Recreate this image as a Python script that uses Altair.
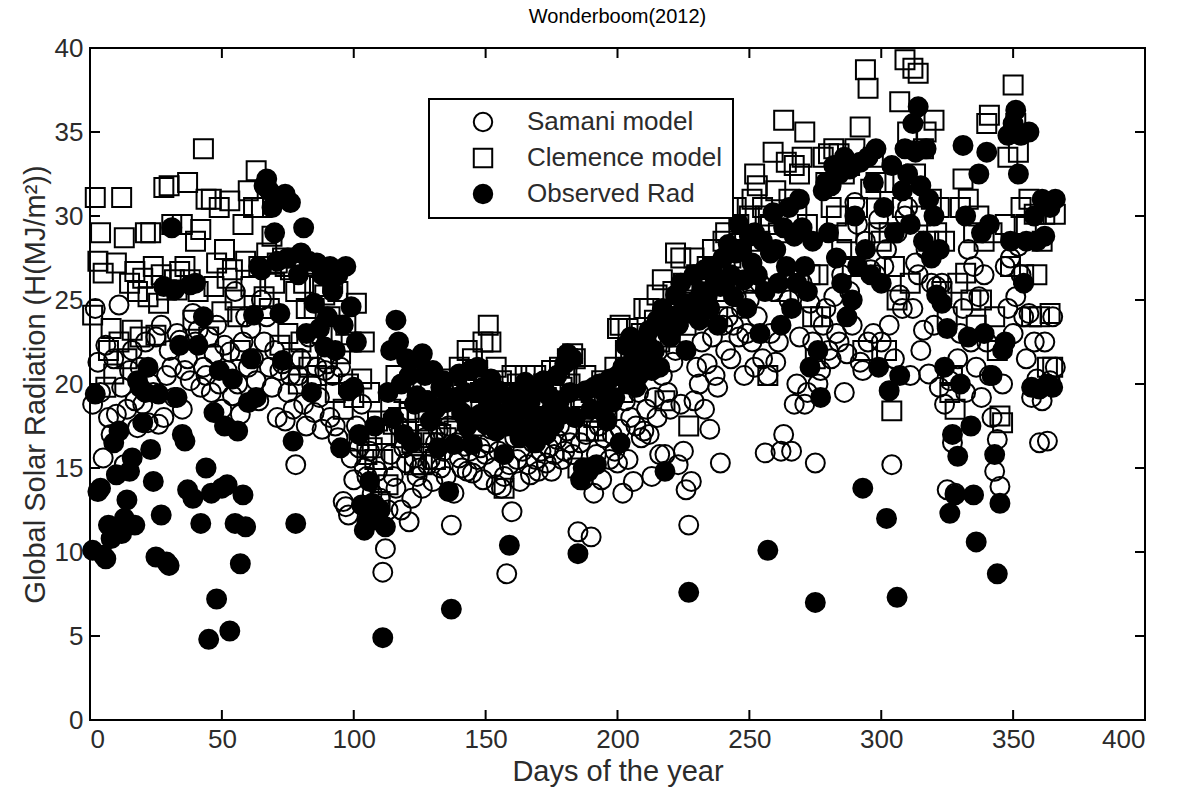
import altair as alt
import pandas as pd

days = list(range(1, 367))

samani = [
    18.8, 24.5, 21.3, 19.5, 15.6, 22.3, 18.0, 17.0, 21.5, 18.2,
    24.7, 19.8, 15.2, 18.5, 20.8, 22.0, 19.0, 17.4, 21.0, 18.8,
    22.5, 17.7, 20.0, 19.5, 22.8, 17.6, 23.5, 18.0, 20.5, 22.0,
    21.0, 19.2, 23.0, 22.6, 18.5, 20.8, 21.5, 20.2, 24.2, 22.5,
    23.2, 19.8, 21.0, 20.5, 22.8, 19.5, 21.8, 23.5, 20.0, 18.5,
    22.3, 20.8, 21.9, 19.3, 25.5, 20.0, 18.2, 22.5, 24.0, 21.0,
    23.3, 21.5, 20.2, 19.0, 25.0, 22.5, 24.0, 21.0, 19.8, 22.0,
    18.0, 20.8, 21.2, 17.8, 19.5, 20.5, 18.5, 15.2, 20.5, 21.5,
    18.8, 17.5, 22.8, 20.0, 18.3, 21.0, 19.2, 17.3, 20.8, 21.2,
    18.0, 20.5, 17.5, 16.8, 21.0, 13.0, 12.7, 12.2, 15.6, 14.3,
    17.5, 16.2, 18.8, 15.0, 14.5, 16.0, 13.5, 12.8, 14.8, 13.2,
    8.8, 10.2, 12.5, 15.8, 14.5, 13.8, 17.5, 12.5, 16.2, 15.3,
    11.8, 13.2, 15.6, 14.5, 15.0, 13.8, 16.8, 15.2, 15.5, 14.2,
    16.5, 17.2, 15.0, 16.0, 14.5, 17.5, 11.6, 13.5, 16.5, 15.6,
    15.0, 16.3, 14.8, 16.0, 14.7, 18.0, 15.5, 16.2, 14.3, 15.8,
    16.5, 17.3, 15.0, 14.0, 16.0, 13.8, 14.5, 8.7, 15.2, 12.4,
    16.8, 15.5, 14.2, 16.0, 17.0, 15.2, 14.6, 16.5, 15.5, 14.8,
    16.0, 17.0, 15.3, 16.2, 14.8, 15.8, 16.7, 17.5, 15.5, 16.0,
    17.2, 16.5, 15.8, 18.0, 11.2, 16.5, 14.3, 17.0, 15.0, 10.9,
    13.5, 15.8, 17.5, 14.3, 16.8, 18.5, 15.5, 17.0, 16.0, 15.3,
    17.3, 13.5, 19.0, 15.5, 18.0, 14.2, 17.5, 19.5, 16.8, 17.2,
    18.5, 17.0, 14.5, 19.2, 18.0, 15.8, 20.5, 15.8, 19.5, 18.5,
    21.3, 22.0, 15.2, 18.8, 16.0, 13.7, 11.6, 14.2, 19.0, 21.0,
    20.0, 22.5, 18.5, 21.2, 17.3, 22.8, 20.5, 19.8, 15.3, 23.5,
    22.0, 24.0, 21.5, 23.5, 25.2, 22.8, 24.5, 20.5, 23.0, 25.0,
    22.5, 21.0, 24.0, 26.0, 21.5, 15.9, 20.5, 23.0, 25.5, 21.3,
    22.5, 16.0, 17.0, 26.3, 25.0, 16.0, 18.8, 20.0, 22.8, 26.0,
    18.8, 19.5, 24.8, 22.5, 15.3, 20.0, 20.8, 23.5, 24.5, 22.0,
    21.5, 25.2, 23.0, 22.5, 26.5, 19.5, 21.8, 25.5, 23.5, 30.8,
    29.5, 21.3, 20.8, 28.5, 22.5, 26.8, 23.0, 26.5, 29.8, 22.5,
    27.0, 28.0, 23.5, 15.2, 21.5, 29.0, 25.3, 24.5, 30.0, 30.5,
    20.5, 24.5, 27.2, 26.5, 22.0, 23.2, 28.0, 20.6, 26.0, 23.5,
    25.8, 19.8, 26.0, 18.8, 13.7, 20.2, 16.5, 13.5, 21.5, 23.0,
    24.5, 19.5, 28.0, 22.5, 27.0, 21.0, 25.2, 19.2, 26.5, 22.5,
    20.5, 18.0, 14.8, 16.7, 13.9, 20.0, 27.0, 24.5, 27.5, 23.0,
    25.2, 28.2, 26.5, 24.0, 21.5, 24.2, 19.2, 22.5, 20.3, 16.5,
    19.0, 22.5, 16.6, 20.2, 24.0, 21.0,
]

clemence = [
    24.1, 31.1, 27.3, 29.0, 26.6, 19.8, 22.0, 23.3, 20.6, 27.2,
    22.5, 31.1, 28.7, 21.5, 26.0, 23.2, 26.7, 25.5, 22.8, 26.3,
    29.0, 25.2, 29.0, 27.0, 22.9, 24.8, 26.5, 31.7, 25.6, 31.8,
    29.5, 26.2, 25.6, 26.7, 29.5, 27.0, 32.0, 26.2, 23.8, 28.5,
    25.5, 29.2, 34.0, 31.0, 22.8, 31.0, 25.8, 27.2, 30.5, 24.3,
    28.0, 26.3, 30.9, 26.8, 25.0, 24.0, 22.0, 29.5, 27.3, 31.5,
    25.8, 30.5, 32.7, 27.0, 30.5, 25.2, 27.8, 24.5, 28.8, 26.0,
    27.2, 22.3, 27.5, 27.0, 23.0, 26.8, 21.5, 25.5, 20.0, 22.5,
    26.0, 24.5, 21.0, 27.0, 24.5, 20.5, 25.8, 23.0, 25.3, 21.5,
    24.0, 26.0, 19.5, 25.5, 21.8, 18.5, 23.5, 20.0, 22.5, 19.2,
    24.8, 16.6, 20.3, 22.5, 15.8, 19.5, 16.2, 15.5, 17.8, 13.0,
    15.5, 17.0, 14.0, 18.5, 17.6, 20.5, 18.0, 16.8, 19.5, 17.3,
    18.3, 16.5, 15.2, 17.8, 19.0, 15.2, 18.5, 17.0, 20.0, 16.5,
    15.5, 18.2, 17.0, 19.5, 16.8, 18.5, 20.3, 17.2, 19.8, 21.0,
    18.5, 20.5, 22.0, 19.0, 21.5, 17.5, 20.8, 19.5, 22.5, 20.0,
    23.5, 22.5, 19.5, 21.0, 18.5, 20.2, 13.8, 19.5, 18.0, 20.5,
    18.8, 20.0, 17.5, 19.2, 20.5, 18.3, 19.8, 18.0, 20.5, 19.0,
    18.5, 20.0, 19.2, 17.8, 20.8, 19.5, 18.5, 21.0, 19.8, 20.5,
    21.5, 20.0, 21.8, 21.5, 15.0, 19.2, 18.5, 20.5, 17.2, 19.5,
    18.0, 17.2, 19.5, 20.2, 19.0, 18.5, 20.0, 19.5, 21.0, 23.3,
    23.5, 19.5, 22.0, 23.3, 21.5, 20.8, 22.5, 21.0, 23.0, 24.5,
    22.0, 24.5, 21.5, 23.8, 25.3, 22.5, 26.2, 19.0, 24.0, 22.8,
    25.5, 27.8, 24.0, 27.5, 26.0, 23.5, 17.5, 25.0, 27.5, 26.5,
    24.5, 26.0, 25.0, 27.0, 26.5, 28.0, 25.5, 24.0, 26.8, 28.5,
    29.0, 30.5, 27.5, 28.0, 30.5, 29.5, 28.0, 27.0, 26.0, 30.0,
    31.0, 32.5, 31.8, 28.5, 30.5, 30.0, 20.5, 29.5, 33.8, 31.5,
    29.0, 25.5, 35.7, 33.2, 31.0, 26.5, 33.0, 30.0, 32.5, 33.5,
    35.0, 29.5, 26.5, 24.0, 21.5, 26.5, 24.0, 33.5, 32.0, 33.7,
    30.5, 34.0, 30.0, 33.7, 28.0, 32.5, 29.0, 33.0, 27.0, 34.0,
    30.5, 35.3, 22.0, 38.7, 37.6, 31.6, 33.5, 32.0, 29.0, 28.5,
    32.0, 22.0, 29.0, 18.4, 27.0, 25.0, 36.8, 30.5, 39.3, 35.0,
    26.0, 38.8, 32.5, 38.5, 30.0, 34.0, 35.0, 28.5, 31.0, 35.7,
    29.0, 30.5, 25.5, 28.5, 24.0, 19.5, 20.5, 18.5, 26.0, 30.5,
    32.2, 26.6, 31.0, 25.0, 29.0, 23.5, 30.0, 25.0, 28.5, 35.5,
    36.0, 29.0, 24.0, 22.0, 18.1, 17.7, 29.5, 33.5, 27.0, 37.8,
    35.5, 33.8, 30.5, 26.5, 29.5, 31.0, 24.0, 30.1, 26.5, 24.0,
    28.5, 30.1, 21.0, 24.2, 21.0, 30.1,
]

observed = [
    10.1, 19.4, 13.6, 13.8, 9.8, 9.6, 11.6, 10.8, 16.5, 14.6,
    17.2, 11.1, 12.0, 13.1, 14.8, 15.6, 11.6, 20.2, 19.8, 17.7,
    19.5, 21.0, 16.1, 14.2, 9.7, 19.4, 12.2, 25.8, 9.4, 9.2,
    29.3, 25.6, 19.2, 22.3, 17.0, 16.6, 13.7, 25.9, 13.2, 26.0,
    22.3, 11.7, 24.0, 15.0, 4.8, 13.5, 18.3, 7.2, 20.8, 13.8,
    17.5, 14.0, 5.3, 20.3, 11.7, 17.2, 9.3, 13.4, 11.5, 18.9,
    21.5, 24.1, 19.2, 27.0, 26.8, 31.8, 32.2, 31.5, 30.5, 29.0,
    27.3, 24.2, 21.4, 31.3, 27.5, 30.8, 16.6, 11.7, 26.5, 27.8,
    29.3, 23.0, 27.3, 19.5, 24.8, 27.2, 23.3, 26.5, 22.2, 24.0,
    27.0, 25.5, 22.0, 26.5, 16.2, 23.5, 27.0, 19.6, 24.6, 19.8,
    22.5, 17.0, 12.8, 11.3, 11.8, 14.2, 12.9, 17.5, 11.9, 12.5,
    4.9, 11.5, 19.5, 22.0, 18.0, 23.8, 22.5, 20.0, 17.0, 21.5,
    20.5, 16.5, 18.8, 19.3, 21.5, 21.8, 20.5, 19.0, 17.8, 20.8,
    18.5, 16.2, 19.8, 20.2, 18.9, 13.6, 6.6, 16.4, 19.2, 20.6,
    18.3, 19.5, 17.5, 20.8, 16.4, 19.5, 21.0, 18.2, 19.8, 17.6,
    19.0, 20.3, 18.5, 17.2, 19.6, 18.0, 15.8, 17.5, 10.4, 18.8,
    17.8, 19.5, 16.8, 18.6, 20.1, 17.3, 19.0, 18.2, 16.5, 19.8,
    18.0, 20.2, 17.0, 19.3, 18.5, 17.6, 20.5, 19.0, 18.2, 21.2,
    21.8, 19.5, 21.5, 18.0, 9.9, 14.3, 15.0, 19.6, 14.8, 18.5,
    19.8, 15.2, 20.0, 18.4, 19.5, 17.8, 20.3, 18.9, 19.2, 20.5,
    16.5, 21.0, 22.3, 20.0, 22.8, 21.5, 19.8, 20.5, 22.0, 21.2,
    22.5, 23.2, 20.8, 22.0, 23.8, 21.0, 24.5, 14.8, 23.0, 22.8,
    24.0, 25.3, 23.5, 26.0, 24.8, 22.0, 7.6, 24.2, 26.5, 25.0,
    23.8, 25.5, 26.8, 25.2, 24.5, 27.0, 26.3, 23.5, 25.8, 27.5,
    26.0, 28.3, 26.5, 25.2, 27.8, 29.5, 28.0, 26.2, 24.5, 28.8,
    27.2, 29.0, 26.5, 23.0, 28.5, 25.5, 10.1, 27.8, 30.2, 28.0,
    26.0, 23.5, 29.3, 27.0, 30.5, 24.5, 28.8, 26.0, 31.0, 29.3,
    27.0, 25.5, 21.0, 28.5, 7.0, 22.0, 19.2, 31.5, 32.0, 29.0,
    31.8, 33.0, 27.5, 32.5, 26.0, 33.5, 24.0, 32.8, 25.0, 30.0,
    27.0, 33.2, 13.8, 28.0, 33.5, 26.5, 32.0, 34.0, 21.0, 26.0,
    30.5, 12.0, 19.6, 33.0, 29.0, 7.3, 20.5, 31.5, 34.0, 32.5,
    29.5, 35.5, 33.8, 36.5, 31.8, 28.5, 34.0, 31.0, 27.5, 30.0,
    25.3, 28.0, 24.8, 21.0, 23.3, 12.3, 17.0, 13.4, 15.7, 20.0,
    34.2, 30.0, 22.8, 17.5, 13.4, 10.6, 32.5, 29.0, 23.0, 33.8,
    29.5, 20.5, 15.8, 8.7, 12.9, 22.0, 22.5, 34.8, 28.5, 35.5,
    36.3, 32.5, 34.8, 26.0, 28.5, 35.0, 19.8, 30.0, 28.5, 19.7,
    31.0, 28.8, 20.0, 30.5, 19.8, 31.0,
]

series_names = ["Samani model", "Clemence model", "Observed Rad"]
series_shapes = ["circle", "square", "circle"]
series_fills = ["transparent", "transparent", "black"]
series_strokes = ["black", "black", "black"]
x_ticks = [0, 50, 100, 150, 200, 250, 300, 350, 400]
y_ticks = [0, 5, 10, 15, 20, 25, 30, 35, 40]

W, H = 1055, 672
TXT = "#2b2b2b"
FONT = "Liberation Sans"

rows = []
for name, vals in zip(series_names, [samani, clemence, observed]):
    for d, v in zip(days, vals):
        rows.append({"day": d, "value": v, "series": name})
df = pd.DataFrame(rows)

xscale = alt.Scale(domain=[0, 400], nice=False, zero=False)
yscale = alt.Scale(domain=[0, 40], nice=False, zero=False)

x_axis = alt.Axis(values=x_ticks, ticks=False, domain=False, grid=False,
                  labelFontSize=26, labelPadding=6, labelColor=TXT, labelFont=FONT,
                  title="Days of the year", titleFontSize=29, titleFontWeight="normal",
                  titleColor=TXT, titleFont=FONT, titlePadding=5)
y_axis = alt.Axis(values=y_ticks, ticks=False, domain=False, grid=False,
                  labelFontSize=26, labelPadding=7, labelColor=TXT, labelFont=FONT,
                  title="Global Solar Radiation (H(MJ/m\u00b2))", titleFontSize=29,
                  titleFontWeight="normal", titleColor=TXT, titleFont=FONT, titlePadding=4)

leg = alt.Legend(title=None, orient="none", legendX=339, legendY=51,
                 labelFontSize=26, labelFont=FONT, labelColor=TXT, labelLimit=500,
                 symbolSize=340, symbolStrokeWidth=2, symbolStrokeColor="black",
                 symbolOffset=31, labelOffset=31, padding=10, rowPadding=8,
                 strokeColor="black", fillColor="white")

points = alt.Chart(df).mark_point(filled=True, size=360, strokeWidth=2, opacity=1).encode(
    x=alt.X("day:Q", scale=xscale, axis=x_axis),
    y=alt.Y("value:Q", scale=yscale, axis=y_axis),
    shape=alt.Shape("series:N", scale=alt.Scale(domain=series_names, range=series_shapes),
                    legend=leg),
    fill=alt.Fill("series:N", scale=alt.Scale(domain=series_names, range=series_fills),
                  legend=leg),
    stroke=alt.Stroke("series:N", scale=alt.Scale(domain=series_names, range=series_strokes),
                      legend=leg),
)

xt = pd.DataFrame({"day": x_ticks})
yt = pd.DataFrame({"value": y_ticks})
TL = 10

bottom_ticks = alt.Chart(xt).mark_rule(color="black", strokeWidth=2).encode(
    x=alt.X("day:Q", scale=xscale, axis=x_axis), y=alt.value(H), y2=alt.value(H - TL))
top_ticks = alt.Chart(xt).mark_rule(color="black", strokeWidth=2).encode(
    x=alt.X("day:Q", scale=xscale, axis=x_axis), y=alt.value(0), y2=alt.value(TL))
left_ticks = alt.Chart(yt).mark_rule(color="black", strokeWidth=2).encode(
    y=alt.Y("value:Q", scale=yscale, axis=y_axis), x=alt.value(0), x2=alt.value(TL))
right_ticks = alt.Chart(yt).mark_rule(color="black", strokeWidth=2).encode(
    y=alt.Y("value:Q", scale=yscale, axis=y_axis), x=alt.value(W), x2=alt.value(W - TL))

chart = alt.layer(bottom_ticks, top_ticks, left_ticks, right_ticks, points).properties(
    width=W, height=H,
    title=alt.TitleParams("Wonderboom(2012)", fontSize=20, fontWeight="normal",
                          color="black", font=FONT, anchor="middle", offset=8),
    autosize=alt.AutoSizeParams(type="none"),
    padding={"left": 90, "top": 48, "right": 32, "bottom": 72},
    background="white",
).configure_view(stroke="black", strokeWidth=2).configure_legend(strokeWidth=2)

chart.save("out.html", embed_options={"renderer": "svg", "actions": False})
